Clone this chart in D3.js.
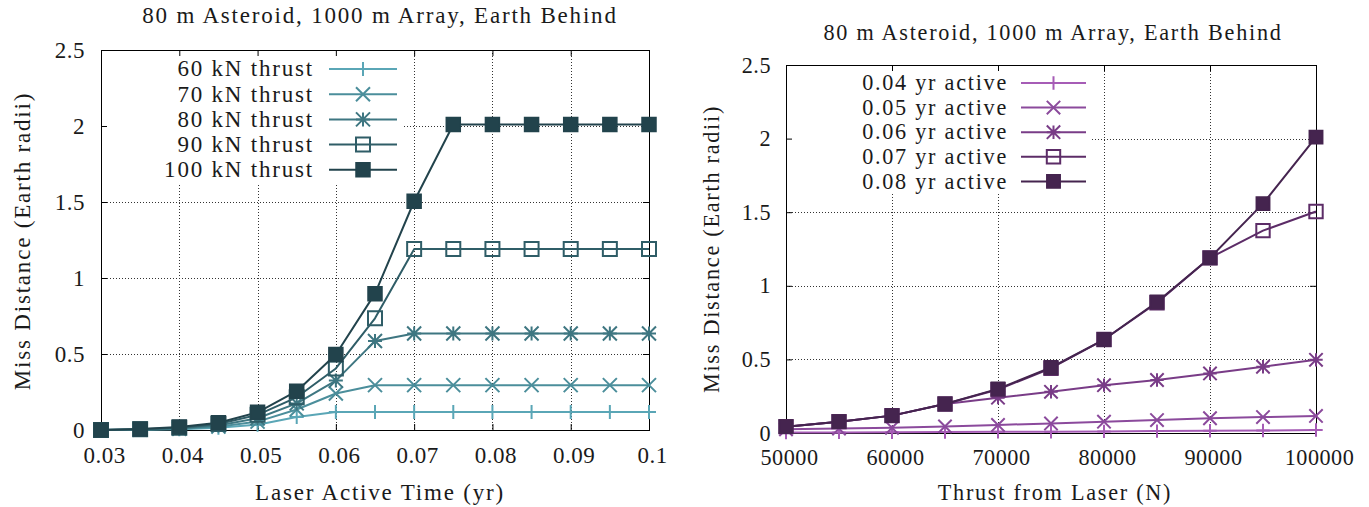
<!DOCTYPE html>
<html><head><meta charset="utf-8">
<script src="https://cdn.jsdelivr.net/npm/d3@7"></script>
<style>
body{margin:0;background:#fff}
</style>
</head><body>
<svg id="chart" width="1369" height="507"></svg>
<script>
// ---------- data ----------
const chartTitle = "80 m Asteroid, 1000 m Array, Earth Behind";
const yTicks = [0, 0.5, 1, 1.5, 2, 2.5];
const yTickLabels = ["0", "0.5", "1", "1.5", "2", "2.5"];

// left panel
const activeTimes = [0.03, 0.035, 0.04, 0.045, 0.05, 0.055, 0.06, 0.065, 0.07, 0.075, 0.08, 0.085, 0.09, 0.095, 0.1];
const leftXTicks = [0.03, 0.04, 0.05, 0.06, 0.07, 0.08, 0.09, 0.1];
const leftXTickLabels = ["0.03", "0.04", "0.05", "0.06", "0.07", "0.08", "0.09", "0.1"];
const leftLabels = ["60 kN thrust", "70 kN thrust", "80 kN thrust", "90 kN thrust", "100 kN thrust"];
const thrust60  = [0, 0.002, 0.005, 0.015, 0.035, 0.085, 0.118, 0.118, 0.118, 0.118, 0.118, 0.118, 0.118, 0.118, 0.118];
const thrust70  = [0, 0.003, 0.008, 0.022, 0.055, 0.135, 0.24, 0.295, 0.295, 0.295, 0.295, 0.295, 0.295, 0.295, 0.295];
const thrust80  = [0, 0.004, 0.011, 0.03, 0.077, 0.175, 0.325, 0.585, 0.635, 0.635, 0.635, 0.635, 0.635, 0.635, 0.635];
const thrust90  = [0, 0.005, 0.015, 0.04, 0.1, 0.215, 0.405, 0.735, 1.19, 1.19, 1.19, 1.19, 1.19, 1.19, 1.19];
const thrust100 = [0, 0.006, 0.02, 0.048, 0.116, 0.255, 0.497, 0.897, 1.505, 2.01, 2.01, 2.01, 2.01, 2.01, 2.01];
const leftColors = ["#5aa6b6", "#4b8e9b", "#3e7681", "#2f5d67", "#22434c"];

// right panel
const thrusts = [50000, 55000, 60000, 65000, 70000, 75000, 80000, 85000, 90000, 95000, 100000];
const rightXTicks = [50000, 60000, 70000, 80000, 90000, 100000];
const rightXTickLabels = ["50000", "60000", "70000", "80000", "90000", "100000"];
const rightLabels = ["0.04 yr active", "0.05 yr active", "0.06 yr active", "0.07 yr active", "0.08 yr active"];
const active004 = [0.003, 0.004, 0.005, 0.006, 0.008, 0.009, 0.011, 0.013, 0.015, 0.017, 0.02];
const active005 = [0.025, 0.03, 0.035, 0.045, 0.055, 0.065, 0.077, 0.088, 0.1, 0.108, 0.116];
const active006 = [0.043, 0.077, 0.118, 0.197, 0.24, 0.28, 0.325, 0.36, 0.405, 0.45, 0.497];
const active007 = [0.043, 0.077, 0.118, 0.197, 0.295, 0.44, 0.635, 0.885, 1.19, 1.375, 1.505];
const active008 = [0.043, 0.077, 0.118, 0.197, 0.3, 0.445, 0.635, 0.89, 1.19, 1.558, 2.01];
const rightColors = ["#a65cb6", "#8b4a9c", "#793c87", "#5c2c67", "#45244f"];

const markerTypes = ["plus", "cross", "star", "openSquare", "filledSquare"];
const FONT = "'Liberation Serif', 'Times New Roman', serif";

// ---------- drawing ----------
const svg = d3.select("#chart");
svg.append("rect").attr("width", 1369).attr("height", 507).attr("fill", "#fff");

function symbolPath(type, r) {
  const plus = `M${-r},0H${r}M0,${-r}V${r}`;
  const cross = `M${-r},${-r}L${r},${r}M${-r},${r}L${r},${-r}`;
  if (type === "plus") return plus;
  if (type === "cross") return cross;
  if (type === "star") return plus + cross;
  return `M${-r},${-r}H${r}V${r}H${-r}Z`;
}

function drawMarker(g, type, cx, cy, r, color) {
  const p = g.append("path")
    .attr("transform", `translate(${cx},${cy})`)
    .attr("d", symbolPath(type, r))
    .attr("stroke", color)
    .attr("stroke-width", 2);
  if (type === "filledSquare") p.attr("fill", color).attr("stroke-width", 1.5);
  else p.attr("fill", "none");
}

function styleText(sel, fs, ls) {
  sel.attr("font-family", FONT).attr("font-size", fs)
    .style("font-family", FONT).style("font-size", fs + "px")
    .style("letter-spacing", ls + "px").attr("fill", "#1a1a1a");
}

function drawPanel(p) {
  const g = svg.append("g");
  const x = d3.scaleLinear().domain(p.xDomain).range([p.left, p.right]);
  const y = d3.scaleLinear().domain([0, 2.5]).range([p.bottom, p.top]);
  const fs = p.fs;

  // grid
  const grid = g.append("g").attr("stroke", "#333").attr("stroke-width", 1).attr("stroke-dasharray", "1,2");
  grid.selectAll("line.gx").data(p.xTicks.slice(1, -1)).join("line")
    .attr("x1", d => Math.round(x(d)) + 0.5).attr("x2", d => Math.round(x(d)) + 0.5)
    .attr("y1", p.top).attr("y2", p.bottom);
  grid.selectAll("line.gy").data(yTicks.slice(1, -1)).join("line")
    .attr("y1", d => Math.round(y(d)) + 0.5).attr("y2", d => Math.round(y(d)) + 0.5)
    .attr("x1", p.left).attr("x2", p.right);

  // key box (opaque)
  g.append("rect").attr("x", p.left + 1).attr("y", p.top + 1)
    .attr("width", p.keyRight - p.left - 1).attr("height", p.keyBottom - p.top - 1)
    .attr("fill", "#fff");

  // axes with inward ticks
  const ax = g.append("g").attr("transform", `translate(0,${p.bottom})`)
    .call(d3.axisBottom(x).tickValues(p.xTicks).tickFormat((d, i) => p.xTickLabels[i])
      .tickSizeInner(-6).tickSizeOuter(0).tickPadding(p.xPad));
  const ay = g.append("g").attr("transform", `translate(${p.left},0)`)
    .call(d3.axisLeft(y).tickValues(yTicks).tickFormat((d, i) => yTickLabels[i])
      .tickSizeInner(-6).tickSizeOuter(0).tickPadding(p.yPad));
  const at = g.append("g").attr("transform", `translate(0,${p.top})`)
    .call(d3.axisTop(x).tickValues(p.xTicks).tickFormat("").tickSizeInner(-6).tickSizeOuter(0));
  const ar = g.append("g").attr("transform", `translate(${p.right},0)`)
    .call(d3.axisRight(y).tickValues(yTicks).tickFormat("").tickSizeInner(-6).tickSizeOuter(0));
  [ax, ay, at, ar].forEach(a => {
    a.attr("font-family", FONT).attr("font-size", fs);
    a.select(".domain").remove();
    a.selectAll(".tick line").attr("stroke", "#000");
    styleText(a.selectAll("text"), fs, 0.5);
  });
  ax.selectAll("text").attr("dx", 3);

  g.append("rect").attr("x", p.left + 0.5).attr("y", p.top + 0.5)
    .attr("width", p.right - p.left).attr("height", p.bottom - p.top)
    .attr("fill", "none").attr("stroke", "#000").attr("stroke-width", 1);

  // series
  const line = d3.line().x(d => x(d[0])).y(d => y(d[1]));
  p.series.forEach((vals, i) => {
    const pts = p.xs.map((xv, j) => [xv, vals[j]]);
    g.append("path").attr("d", line(pts)).attr("fill", "none")
      .attr("stroke", p.colors[i]).attr("stroke-width", 2).attr("stroke-linejoin", "round");
    pts.forEach(pt => drawMarker(g, markerTypes[i], x(pt[0]), y(pt[1]), p.markerR[i], p.colors[i]));
  });

  // legend
  p.labels.forEach((lab, i) => {
    const ly = p.legTop + i * p.legStep;
    const t = g.append("text").attr("x", p.legTextEnd).attr("y", ly).attr("dy", "0.32em")
      .attr("text-anchor", "end").text(lab);
    styleText(t, fs, p.ls);
    g.append("line").attr("x1", p.legX1).attr("x2", p.legX2).attr("y1", ly).attr("y2", ly)
      .attr("stroke", p.colors[i]).attr("stroke-width", 2);
    drawMarker(g, markerTypes[i], (p.legX1 + p.legX2) / 2, ly, p.markerR[i], p.colors[i]);
  });

  // titles
  styleText(g.append("text").attr("x", p.titleX).attr("y", p.titleY).attr("text-anchor", "middle")
    .text(chartTitle), fs, p.ls);
  styleText(g.append("text").attr("x", p.xLabelX).attr("y", p.xLabelY).attr("text-anchor", "middle")
    .text(p.xLabel), fs, p.ls);
  styleText(g.append("text").attr("transform", `translate(${p.yLabelX},${p.yLabelY}) rotate(-90)`)
    .attr("text-anchor", "middle").text("Miss Distance (Earth radii)"), fs, p.ls);
}

drawPanel({
  left: 101, right: 649, top: 50, bottom: 430,
  xDomain: [0.03, 0.1], xs: activeTimes,
  xTicks: leftXTicks, xTickLabels: leftXTickLabels,
  series: [thrust60, thrust70, thrust80, thrust90, thrust100],
  colors: leftColors, labels: leftLabels,
  markerR: [7, 7, 7, 7, 7],
  fs: 23, ls: 1.8, xPad: 17, yPad: 16,
  keyRight: 402, keyBottom: 183,
  legTop: 69, legStep: 25.2, legTextEnd: 314, legX1: 329, legX2: 397,
  titleX: 380, titleY: 23, xLabelX: 380, xLabelY: 500,
  yLabelX: 30, yLabelY: 241, xLabel: "Laser Active Time (yr)"
});

drawPanel({
  left: 786, right: 1316, top: 65, bottom: 433,
  xDomain: [50000, 100000], xs: thrusts,
  xTicks: rightXTicks, xTickLabels: rightXTickLabels,
  series: [active004, active005, active006, active007, active008],
  colors: rightColors, labels: rightLabels,
  markerR: [6.7, 6.7, 6.7, 6.7, 6.7],
  fs: 22.2, ls: 1.75, xPad: 16, yPad: 15,
  keyRight: 1092, keyBottom: 193,
  legTop: 83, legStep: 24.6, legTextEnd: 1008, legX1: 1021, legX2: 1086,
  titleX: 1053, titleY: 40, xLabelX: 1055, xLabelY: 500,
  yLabelX: 719, yLabelY: 249, xLabel: "Thrust from Laser (N)"
});
</script>
</body></html>
